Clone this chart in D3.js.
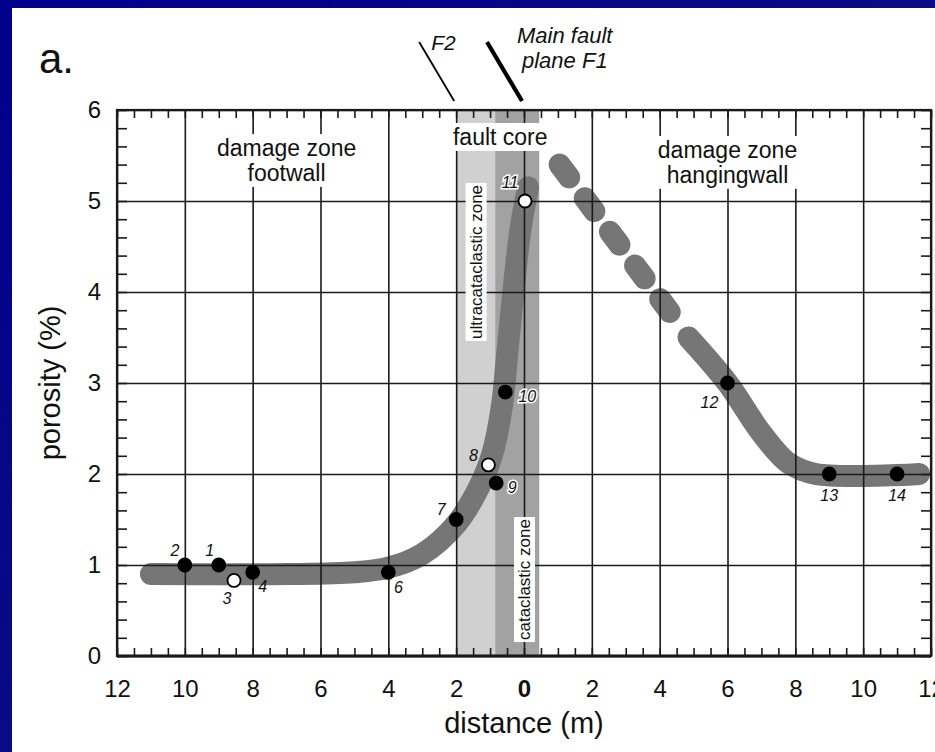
<!DOCTYPE html>
<html>
<head>
<meta charset="utf-8">
<script src="https://cdn.jsdelivr.net/npm/d3@7"></script>
<style>
body{margin:0;background:#000080;overflow:hidden;}
text{font-family:"Liberation Sans",Arial,Helvetica,sans-serif;fill:#111;}
</style>
</head>
<body>
<svg id="mainSvg" width="935" height="752"></svg>
<script>
// ---- data ----
var footwallCurveX = [-11, -7, -5, -4, -3, -2, -1.4, -0.95, -0.65, -0.5, -0.3, -0.1, 0.12];
var footwallCurveY = [0.9, 0.9, 0.92, 0.97, 1.12, 1.45, 1.8, 2.2, 2.75, 3.3, 4.05, 4.7, 5.15];
var hangingDashX = [1.05, 4.7];
var hangingDashY = [5.4, 3.58];
var hangingSolidX = [4.85, 6, 7, 7.8, 8.6, 11.65];
var hangingSolidY = [3.5, 3.0, 2.45, 2.12, 2.0, 2.0];

var sampleIds  = ["1", "2", "3", "4", "6", "7", "8", "9", "10", "11", "12", "13", "14"];
var sampleDist = [-9, -10, -8.55, -8, -4, -2, -1.05, -0.82, -0.55, 0.03, 6, 9, 11];
var samplePoro = [1.0, 1.0, 0.83, 0.92, 0.92, 1.5, 2.1, 1.9, 2.9, 5.0, 3.0, 2.0, 2.0];
var sampleOpen = [false, false, true, false, false, false, true, false, false, true, false, false, false];

var bandFrom   = [-2, -0.85];
var bandTo     = [-0.85, 0.45];

var xTicks = d3.range(-12, 13, 2);
var yTicks = d3.range(0, 7, 1);

// label placement (pixels relative to the dot)
var labelDx = [-9, -10, -7, 10, 10, -15, -15, 16, 22, -15, -18, 0, 0];
var labelDy = [-15, -15, 18, 14, 15, -10, -10, 4, 4, -19, 19, 21, 21];
var labelHalo = ["9", "10", "11"];

var plotL = 117, plotR = 931, plotT = 110, plotB = 656;

var svg = d3.select("#mainSvg");

// slide background
var defs = svg.append("defs");
var grad = defs.append("linearGradient").attr("id", "bg")
    .attr("x1", "0").attr("y1", "0").attr("x2", "1").attr("y2", "1");
grad.append("stop").attr("offset", "0").attr("stop-color", "#00008c");
grad.append("stop").attr("offset", "0.5").attr("stop-color", "#0a0a86");
grad.append("stop").attr("offset", "1").attr("stop-color", "#000078");
svg.append("rect").attr("width", 935).attr("height", 752).attr("fill", "url(#bg)");
svg.append("rect").attr("x", 12).attr("y", 8).attr("width", 923).attr("height", 744).attr("fill", "white");

var x = d3.scaleLinear().domain([-12, 12]).range([plotL, plotR]);
var y = d3.scaleLinear().domain([0, 6]).range([plotB, plotT]);

// fault core bands
svg.selectAll(".band")
    .data(bandFrom)
    .enter()
    .append("rect")
    .attr("class", "band")
    .attr("x", function(d){ return x(d); })
    .attr("y", y(6))
    .attr("width", function(d, i){ return x(bandTo[i]) - x(d); })
    .attr("height", y(0) - y(6))
    .attr("fill", function(d, i){ return i == 0 ? "#d0d0d0" : "#a2a2a2"; });

// porosity trend bands
var line = d3.line()
    .x(function(d){ return x(d[0]); })
    .y(function(d){ return y(d[1]); })
    .curve(d3.curveCatmullRom.alpha(0.5));

function drawTrend(xs, ys, dashed){
    svg.append("path")
        .datum(d3.zip(xs, ys))
        .attr("d", line)
        .attr("fill", "none")
        .attr("stroke", "#767676")
        .attr("stroke-width", 22)
        .attr("stroke-linecap", "round")
        .attr("stroke-linejoin", "round")
        .attr("stroke-dasharray", dashed ? "16,26" : null);
}
drawTrend(footwallCurveX, footwallCurveY, false);
drawTrend(hangingDashX, hangingDashY, true);
drawTrend(hangingSolidX, hangingSolidY, false);

// grid + tick labels through the axes
var xAxisG = svg.append("g")
    .attr("transform", "translate(0," + plotB + ")")
    .call(d3.axisBottom(x).tickValues(xTicks).tickSize(-(plotB - plotT)).tickPadding(24)
        .tickFormat(function(d){ return Math.abs(d); }));
var yAxisG = svg.append("g")
    .attr("transform", "translate(" + plotL + ",0)")
    .call(d3.axisLeft(y).tickValues(yTicks).tickSize(-(plotR - plotL)).tickPadding(16)
        .tickFormat(d3.format("d")));

[xAxisG, yAxisG].forEach(function(g){
    g.select(".domain").remove();
    g.selectAll(".tick line").attr("stroke", "#1a1a1a").attr("stroke-width", 1.6);
    g.selectAll(".tick text").attr("font-size", "24px").attr("fill", "#111")
        .attr("font-family", "Liberation Sans, Arial, sans-serif");
});
xAxisG.selectAll(".tick text").attr("font-weight", function(d){ return d == 0 ? "bold" : null; });

// minor ticks on all four sides
var xMinor = d3.range(-12, 12.01, 0.5);
var yMinor = d3.range(0, 6.01, 0.2);
function minor(axis, tr, size){
    var g = svg.append("g").attr("transform", tr).call(axis.tickSize(-size).tickFormat(""));
    g.select(".domain").remove();
    g.selectAll(".tick line").attr("stroke", "#1a1a1a").attr("stroke-width", 1.6);
}
minor(d3.axisBottom(x).tickValues(xMinor), "translate(0," + plotB + ")", 8);
minor(d3.axisTop(x).tickValues(xMinor), "translate(0," + plotT + ")", 8);
minor(d3.axisLeft(y).tickValues(yMinor), "translate(" + plotL + ",0)", 10);
minor(d3.axisRight(y).tickValues(yMinor), "translate(" + plotR + ",0)", 10);

// frame
svg.append("rect")
    .attr("x", plotL).attr("y", plotT)
    .attr("width", plotR - plotL).attr("height", plotB - plotT)
    .attr("fill", "none").attr("stroke", "#1a1a1a").attr("stroke-width", 2.2);
svg.append("line")
    .attr("x1", plotL).attr("x2", plotR).attr("y1", plotB).attr("y2", plotB)
    .attr("stroke", "#1a1a1a").attr("stroke-width", 3);

// text with a white box behind it
function boxedText(lines, cx, cy, size, rotate, pad){
    var g = svg.append("g").attr("transform", "translate(" + cx + "," + cy + ")" + (rotate ? " rotate(-90)" : ""));
    var t = g.append("text")
        .attr("text-anchor", "middle")
        .attr("font-size", size + "px");
    lines.forEach(function(s, i){
        t.append("tspan").attr("x", 0).attr("dy", i == 0 ? 0 : size * 1.08).text(s);
    });
    var bb = t.node().getBBox();
    g.insert("rect", "text")
        .attr("x", bb.x - pad).attr("y", bb.y - 1)
        .attr("width", bb.width + 2 * pad).attr("height", bb.height + 2)
        .attr("fill", "white");
}
boxedText(["damage zone", "footwall"], x(-7), 156, 23, false, 3);
boxedText(["damage zone", "hangingwall"], x(6), 158, 23, false, 3);
boxedText(["fault core"], x(-0.7), 145, 23, false, 2);
boxedText(["ultracataclastic zone"], x(-1.25), y(4.33), 17, true, 2);
boxedText(["cataclastic zone"], x(0) + 6, y(0.84), 17, true, 2);

// sample points
var pts = svg.selectAll(".sample")
    .data(sampleIds)
    .enter()
    .append("g")
    .attr("class", "sample")
    .attr("transform", function(d, i){ return "translate(" + x(sampleDist[i]) + "," + y(samplePoro[i]) + ")"; });

pts.append("circle")
    .attr("r", 6.5)
    .attr("fill", function(d, i){ return sampleOpen[i] ? "white" : "#000"; })
    .attr("stroke", "#000")
    .attr("stroke-width", 1.8);

pts.append("text")
    .attr("x", function(d, i){ return labelDx[i]; })
    .attr("y", function(d, i){ return labelDy[i]; })
    .attr("dy", "0.35em")
    .attr("text-anchor", "middle")
    .attr("font-size", "16px")
    .attr("font-style", "italic")
    .attr("stroke", function(d){ return labelHalo.indexOf(d) >= 0 ? "white" : "none"; })
    .attr("stroke-width", 3)
    .attr("paint-order", "stroke")
    .text(function(d){ return d; });

// axis titles and panel letter
svg.append("text")
    .attr("x", x(0)).attr("y", 733)
    .attr("text-anchor", "middle")
    .attr("font-size", "29px")
    .text("distance (m)");
svg.append("text")
    .attr("transform", "translate(60," + y(3) + ") rotate(-90)")
    .attr("text-anchor", "middle")
    .attr("font-size", "29px")
    .text("porosity (%)");
svg.append("text")
    .attr("x", 39).attr("y", 73)
    .attr("font-size", "42px")
    .text("a.");

// fault traces above the plot
var faultAt = [-2, 0];
var faultWidth = [1.8, 4.2];
svg.selectAll(".fault")
    .data(faultAt)
    .enter()
    .append("line")
    .attr("x1", function(d){ return x(d) - 2; })
    .attr("y1", plotT - 9)
    .attr("x2", function(d){ return x(d) - 37; })
    .attr("y2", plotT - 68)
    .attr("stroke", "#000")
    .attr("stroke-width", function(d, i){ return faultWidth[i]; });

svg.append("text")
    .attr("x", x(-2) - 25).attr("y", 50)
    .attr("font-size", "21px").attr("font-style", "italic")
    .text("F2");
svg.append("text")
    .attr("x", 517).attr("y", 43)
    .attr("font-size", "22px").attr("font-style", "italic")
    .text("Main fault");
svg.append("text")
    .attr("x", 522).attr("y", 68)
    .attr("font-size", "22px").attr("font-style", "italic")
    .text("plane F1");
</script>
</body>
</html>
